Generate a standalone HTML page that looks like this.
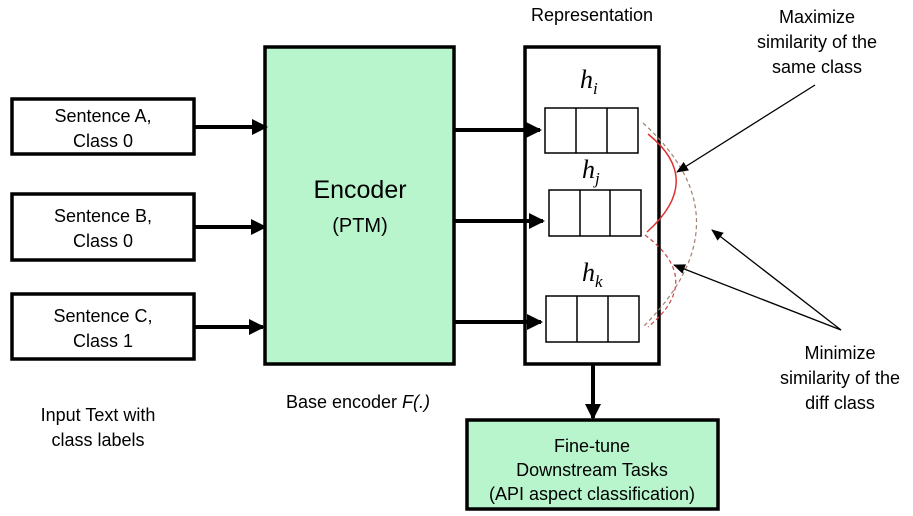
<!DOCTYPE html>
<html><head><style>
html,body{margin:0;padding:0;background:#fff;}
svg{display:block;font-family:"Liberation Sans",Arial,sans-serif;}
</style></head><body>
<svg width="913" height="516" viewBox="0 0 913 516" xmlns="http://www.w3.org/2000/svg">
<defs>
<marker id="ah" markerWidth="4" markerHeight="4" refX="3.5" refY="2" orient="auto" markerUnits="strokeWidth"><path d="M0,0 L4,2 L0,4 z" fill="#000"/></marker>
<marker id="ts" markerWidth="12" markerHeight="10" refX="11" refY="5" orient="auto" markerUnits="userSpaceOnUse"><path d="M0,0 L12,5 L0,10 z" fill="#000"/></marker>
</defs>
<g stroke="#000" stroke-width="3.5" fill="#fff">
<rect x="12" y="99" width="182" height="55"/>
<rect x="12" y="194" width="182" height="66"/>
<rect x="12" y="294" width="182" height="65"/>
</g>
<g font-size="18" text-anchor="middle" fill="#000">
<text x="103" y="122">Sentence A,</text><text x="103" y="147">Class 0</text>
<text x="103" y="222">Sentence B,</text><text x="103" y="247">Class 0</text>
<text x="103" y="322">Sentence C,</text><text x="103" y="347">Class 1</text>
<text x="98" y="421">Input Text with</text><text x="98" y="446">class labels</text>
<text x="358" y="408">Base encoder <tspan font-style="italic">F(.)</tspan></text>
<text x="592" y="21">Representation</text>
<text x="817" y="23">Maximize</text><text x="817" y="48">similarity of the</text><text x="817" y="73">same class</text>
<text x="840" y="359">Minimize</text><text x="840" y="384">similarity of the</text><text x="840" y="409">diff class</text>
</g>
<rect x="265" y="47" width="189" height="317" fill="#b8f5cc" stroke="#000" stroke-width="3.5"/>
<text x="360" y="198" font-size="25" text-anchor="middle">Encoder</text>
<text x="360" y="232" font-size="20" text-anchor="middle">(PTM)</text>
<rect x="525" y="47" width="134" height="317" fill="#fff" stroke="#000" stroke-width="3.5"/>
<g stroke="#000" stroke-width="1.5" fill="#fff">
<rect x="545" y="108" width="93" height="45"/><line x1="576" y1="108" x2="576" y2="153"/><line x1="607" y1="108" x2="607" y2="153"/>
<rect x="549" y="190" width="92" height="46"/><line x1="580" y1="190" x2="580" y2="236"/><line x1="610" y1="190" x2="610" y2="236"/>
<rect x="546" y="296" width="93" height="46"/><line x1="577" y1="296" x2="577" y2="342"/><line x1="608" y1="296" x2="608" y2="342"/>
</g>
<g font-family="'Liberation Serif',serif" font-style="italic" font-size="26">
<text x="580" y="88">h<tspan font-size="17" dy="6">i</tspan></text>
<text x="582" y="178">h<tspan font-size="17" dy="6">j</tspan></text>
<text x="582" y="281">h<tspan font-size="17" dy="6">k</tspan></text>
</g>
<g stroke="#000" stroke-width="4" marker-end="url(#ah)">
<line x1="194" y1="127" x2="266" y2="127"/>
<line x1="194" y1="227" x2="265" y2="227"/>
<line x1="194" y1="327" x2="263" y2="327"/>
<line x1="454" y1="130" x2="540" y2="130"/>
<line x1="454" y1="221" x2="543" y2="221"/>
<line x1="454" y1="322" x2="541" y2="322"/>
<line x1="593" y1="364" x2="593" y2="418"/>
</g>
<rect x="467" y="420" width="251" height="89" fill="#b8f5cc" stroke="#000" stroke-width="3.5"/>
<g font-size="18" text-anchor="middle"><text x="592" y="452">Fine-tune</text><text x="592" y="476">Downstream Tasks</text><text x="592" y="500">(API aspect classification)</text></g>
<path d="M648,134 Q705,180 647,232" fill="none" stroke="#e03030" stroke-width="1.5"/>
<path d="M643,123 Q750,220 643,327" fill="none" stroke="#a08070" stroke-width="1.2" stroke-dasharray="4,3"/>
<path d="M645,235 Q705,280 648,327" fill="none" stroke="#d04040" stroke-width="1.2" stroke-dasharray="4,3"/>
<g stroke="#000" stroke-width="1.3" marker-end="url(#ts)">
<line x1="815" y1="85" x2="677" y2="172"/>
<line x1="841" y1="330" x2="712" y2="230"/>
<line x1="841" y1="330" x2="674" y2="265"/>
</g>
</svg>
</body></html>
